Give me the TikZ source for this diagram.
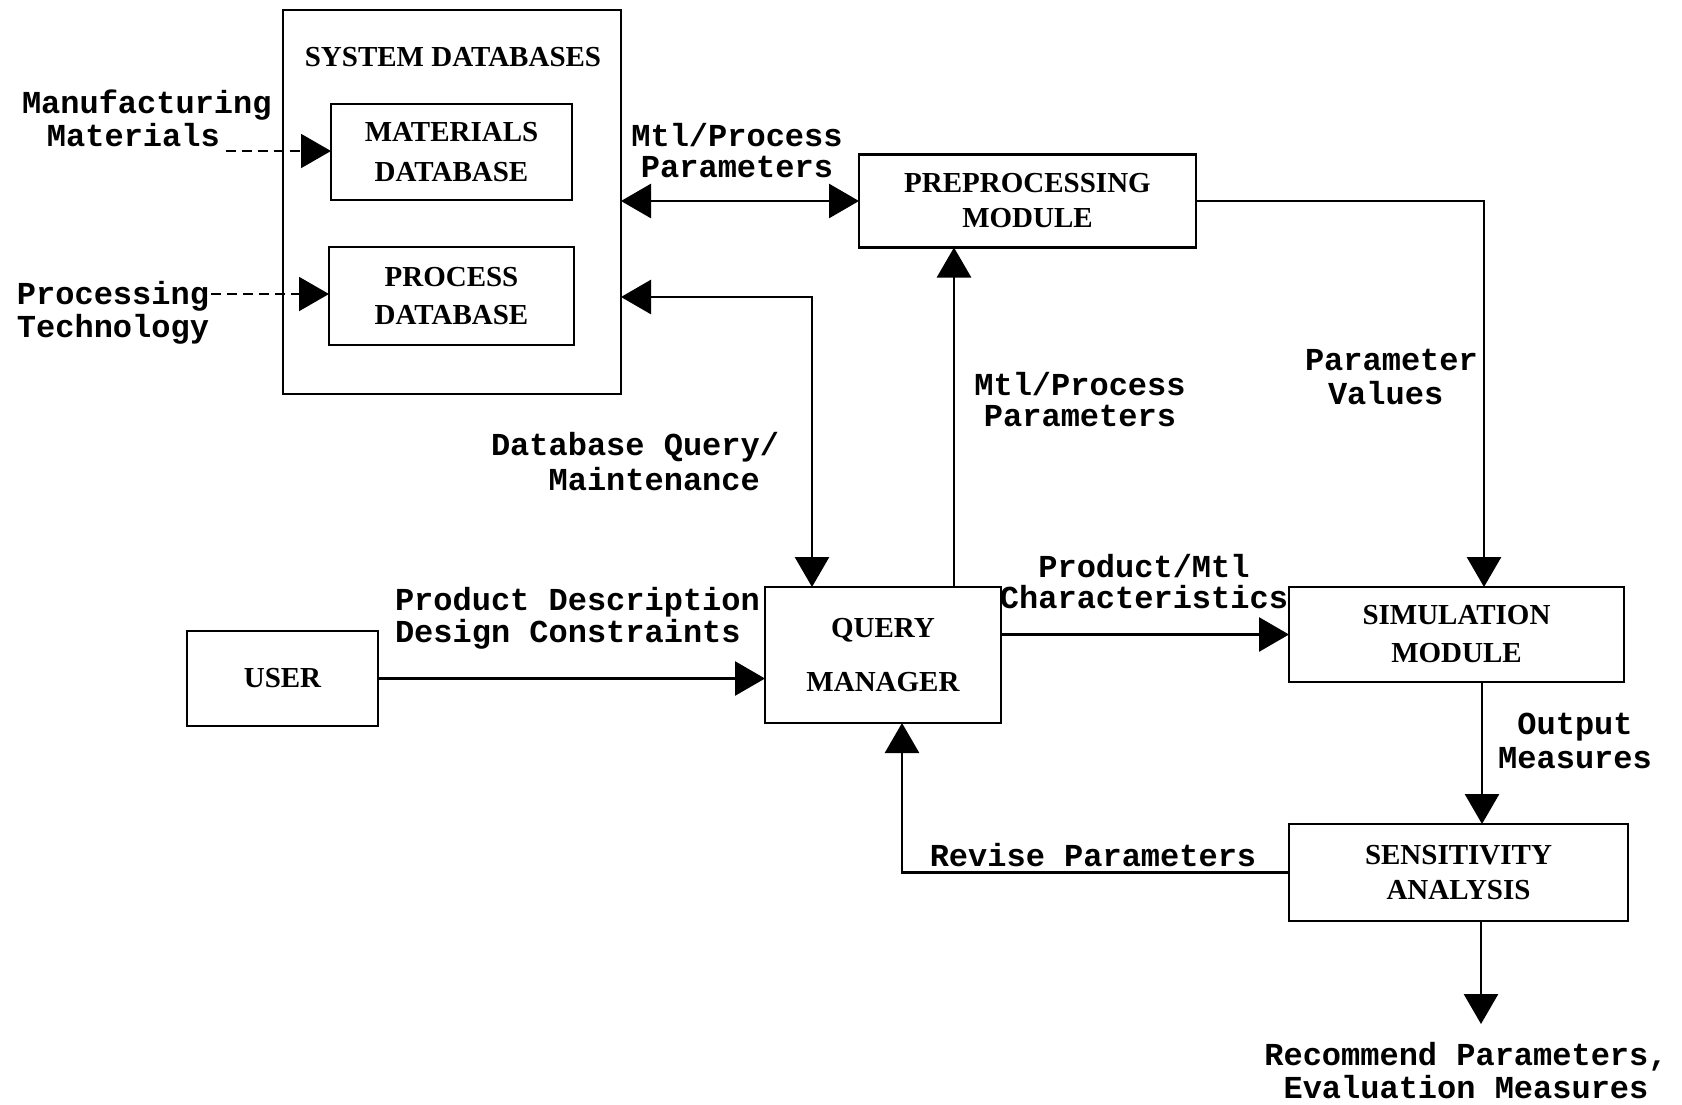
\documentclass[tikz,border=0pt]{standalone}
\usepackage{fontspec}
\setmonofont{Liberation Mono}
\newfontfamily\boxserif{Liberation Serif}
\usetikzlibrary{arrows.meta}
\newcommand\lblfont{\ttfamily\bfseries\fontsize{16}{16.5}\selectfont}
\newcommand\bxfont{\boxserif\bfseries\fontsize{14.5}{19}\selectfont}
\begin{document}
\begin{tikzpicture}[x=0.5pt,y=-0.5pt,
  every node/.style={inner sep=0pt, outer sep=0pt},
  blk/.style={draw, line width=1.4pt, font=\bxfont, align=center},
  lbl/.style={font=\lblfont},
  tip/.tip={Triangle[length=15pt,width=17pt]},
  arr/.style={line width=1.4pt, -tip},
  darr/.style={line width=1.4pt, tip-tip},
  dsh/.style={line width=1pt, dash pattern=on 5pt off 3pt, -tip}]
\useasboundingbox (0,0) rectangle (1682,1104);

% boxes
\node[blk, minimum width=169pt, minimum height=192pt] (sysdb) at (452,202) {};
\node[font=\bxfont] (sysdbt) at (453,57) {SYSTEM DATABASES};
\node[blk, minimum width=120.5pt, minimum height=48pt, font=\boxserif\bfseries\fontsize{14.5}{20}\selectfont] (matdb) at (451.5,152) {MATERIALS\\DATABASE};
\node[blk, minimum width=122.5pt, minimum height=49pt] (procdb) at (451.5,296) {PROCESS\\DATABASE};
\node[blk, minimum width=168.5pt, minimum height=46.5pt, font=\boxserif\bfseries\fontsize{14.5}{17.5}\selectfont] (preproc) at (1027.5,201) {PREPROCESSING\\MODULE};
\node[blk, minimum width=118pt, minimum height=68pt] (qm) at (883,655) {QUERY\\[8pt]MANAGER};
\node[blk, minimum width=95.5pt, minimum height=47.5pt] (user) at (282.5,678.5) {USER};
\node[blk, minimum width=167.5pt, minimum height=47.5pt] (sim) at (1456.5,634.5) {SIMULATION\\MODULE};
\node[blk, minimum width=169.5pt, minimum height=48.5pt, font=\boxserif\bfseries\fontsize{14.5}{17.5}\selectfont] (sens) at (1458.5,872.5) {SENSITIVITY\\ANALYSIS};

% labels
\node[lbl, anchor=west, align=left] (mfg) at (22,118) {Manufacturing\\\hspace*{12.5pt}Materials};
\node[lbl, anchor=west, align=left] (ptech) at (17,313) {Processing\\Technology};
\node[lbl, align=center, font=\ttfamily\bfseries\fontsize{16}{15.5}\selectfont] (mpt) at (737,151) {Mtl/Process\\Parameters};
\node[lbl, anchor=west, align=left, font=\ttfamily\bfseries\fontsize{16}{17.5}\selectfont] (dql) at (491,462) {Database Query/\\\hspace*{28.8pt}Maintenance};
\node[lbl, align=center, font=\ttfamily\bfseries\fontsize{16}{15.5}\selectfont] (mpm) at (1080,400) {Mtl/Process\\Parameters};
\node[lbl, anchor=west, align=left, font=\ttfamily\bfseries\fontsize{16}{17}\selectfont] (pvl) at (1305,377) {Parameter\\\hspace*{11.5pt}Values};
\node[lbl, align=center, font=\ttfamily\bfseries\fontsize{16}{15.5}\selectfont] (pcl) at (1144,582) {Product/Mtl\\Characteristics};
\node[lbl, anchor=west, align=left, font=\ttfamily\bfseries\fontsize{16}{14}\selectfont] (pdl) at (395,618) {Product Description\\Design Constraints};
\node[lbl, align=center, font=\ttfamily\bfseries\fontsize{16}{17}\selectfont] (outl) at (1575,741) {Output\\Measures};
\node[lbl] (revl) at (1093,855) {Revise Parameters};
\node[lbl, align=center] (recl) at (1466,1071) {Recommend Parameters,\\Evaluation Measures};

% helper coordinates
\coordinate (mfgend) at (226,151);
\coordinate (procend) at (211,294);
\coordinate (dqc) at (812,297);
\coordinate (mpx) at (954,400);
\coordinate (pvx) at (1484,400);
\coordinate (ox) at (1482,750);
\coordinate (rx) at (902,800);
\coordinate (rec) at (1481,1024);

% connectors
\draw[dsh] (mfgend) -- (mfgend -| matdb.west);
\draw[dsh] (procend) -- (procend -| procdb.west);
\draw[darr] (sysdb.east |- preproc.west) -- (preproc.west);
\draw[darr] (sysdb.east |- dqc) -- (dqc) -- (dqc |- qm.north);
\draw[arr] (qm.north -| mpx) -- (mpx |- preproc.south);
\draw[arr] (preproc.east) -| (pvx |- sim.north);
\draw[arr] (user.east) -- (user.east -| qm.west);
\draw[arr] (qm.east |- sim.west) -- (sim.west);
\draw[arr] (sim.south -| ox) -- (ox |- sens.north);
\draw[arr] (sens.west) -| (rx |- qm.south);
\draw[arr] (sens.south -| rec) -- (rec);
\end{tikzpicture}
\end{document}
